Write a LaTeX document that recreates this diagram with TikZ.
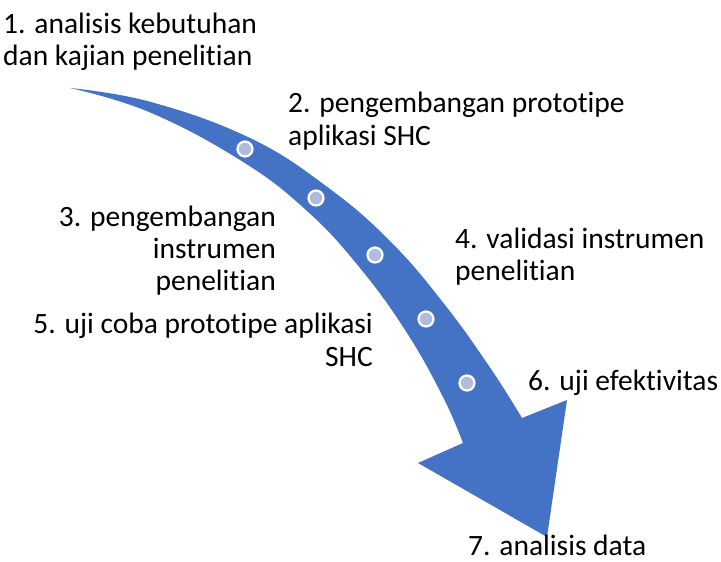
\documentclass[tikz,border=0pt]{standalone}
\usepackage{fontspec}
\setmainfont[Ligatures={NoCommon},RawFeature={-clig}]{Carlito}
\definecolor{arrowblue}{RGB}{68,114,196}
\definecolor{dotfill}{RGB}{176,188,222}
\begin{document}
\begin{tikzpicture}[x=1pt,y=-1pt,
  lbl/.style={inner sep=0pt,font=\fontsize{29.5}{34}\selectfont},
  dot/.style={circle,fill=dotfill,draw=white,line width=2.2pt,minimum size=15pt,inner sep=0pt}]
\useasboundingbox (0,0) rectangle (721,562);
% arrow body
\fill[arrowblue] plot[smooth,tension=0.7] coordinates {(70,88) (151,102) (250,138) (326,186) (390,241) (445,305) (491,369) (522,418)}
  -- (567,400) -- (547,537) -- (418,463) -- (463,443)
  -- plot[smooth,tension=0.7] coordinates {(463,443) (443,397) (407,333) (360,268) (306,210) (240,160) (149,112) (70,88)} -- cycle;
% dots
\node[dot] (d1) at (245,149) {};
\node[dot] (d2) at (316,198) {};
\node[dot] (d3) at (375,255) {};
\node[dot] (d4) at (426,319) {};
\node[dot] (d5) at (467,383) {};
% labels
\node[lbl,anchor=base west] (t1a) at (3,33) {1. analisis kebutuhan};
\node[lbl,anchor=base west] (t1b) at (3,65) {dan kajian penelitian};
\node[lbl,anchor=base west] (t2a) at (288,112) {2. pengembangan prototipe};
\node[lbl,anchor=base west] (t2b) at (288,145) {aplikasi SHC};
\node[lbl,anchor=base east] (t3a) at (276,226) {3. pengembangan};
\node[lbl,anchor=base east] (t3b) at (276,258) {instrumen};
\node[lbl,anchor=base east] (t3c) at (276,290) {penelitian};
\node[lbl,anchor=base west] (t4a) at (455,248) {4. validasi instrumen};
\node[lbl,anchor=base west] (t4b) at (455,280) {penelitian};
\node[lbl,anchor=base east] (t5a) at (373,333) {5. uji coba prototipe aplikasi};
\node[lbl,anchor=base east] (t5b) at (373,366) {SHC};
\node[lbl,anchor=base west] (t6) at (528,390) {6. uji efektivitas};
\node[lbl,anchor=base west] (t7) at (468,555) {7. analisis data};
\end{tikzpicture}
\end{document}
